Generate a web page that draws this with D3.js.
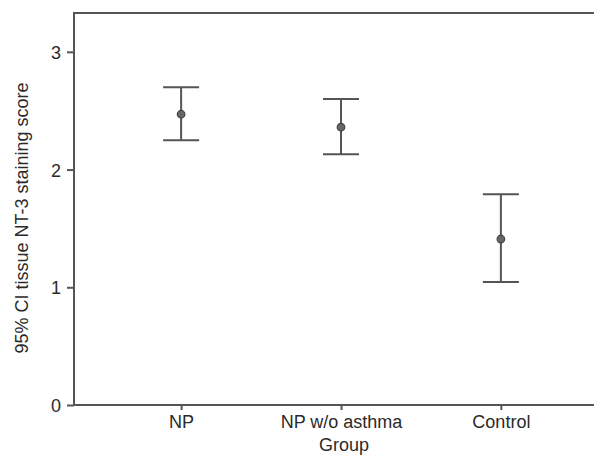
<!DOCTYPE html>
<html>
<head>
<meta charset="utf-8">
<script src="https://cdn.jsdelivr.net/npm/d3@7"></script>
<style>
  body { margin: 0; background: #fff; }
  text { font-family: "Liberation Sans", Arial, sans-serif; fill: #2a2a2a; }
</style>
</head>
<body>
<div id="chart"></div>
<script>
// group data
var groups = ["NP", "NP w/o asthma", "Control"];
var means = [2.47, 2.36, 1.41];
var lower = [2.25, 2.13, 1.045];
var upper = [2.70, 2.60, 1.79];
var yTicks = [0, 1, 2, 3];

var W = 594, H = 456;
var margin = { top: 13, right: -14, bottom: 51, left: 74 },
  width = W - margin.left - margin.right,
  height = H - margin.top - margin.bottom;

var svg = d3.select("#chart").append("svg")
  .attr("width", W)
  .attr("height", H)
  .append("g")
  .attr("transform", "translate(" + margin.left + "," + margin.top + ")");

var x = d3.scalePoint()
  .domain(groups)
  .range([0, width])
  .padding(0.67);

var y = d3.scaleLinear()
  .domain([0, 3.33])
  .range([height, 0]);

var stroke = "#555";

// frame
svg.append("rect")
  .attr("x", 0).attr("y", 0)
  .attr("width", width).attr("height", height)
  .attr("fill", "none")
  .attr("stroke", stroke)
  .attr("stroke-width", 2);

// y axis
var yAxis = svg.append("g")
  .call(d3.axisLeft(y).tickValues(yTicks).tickSize(7).tickPadding(6).tickFormat(d3.format("d")));
yAxis.select(".domain").remove();
yAxis.selectAll("line").attr("stroke", stroke).attr("stroke-width", 2);
yAxis.selectAll("text").style("font-size", "18px").attr("fill", "#2a2a2a").attr("dy", "0.36em");

// x axis
var xAxis = svg.append("g")
  .attr("transform", "translate(0," + height + ")")
  .call(d3.axisBottom(x).tickSize(5).tickPadding(7));
xAxis.select(".domain").remove();
xAxis.selectAll("line").attr("stroke", stroke).attr("stroke-width", 2);
xAxis.selectAll("text").style("font-size", "18px").attr("fill", "#2a2a2a").attr("dy", "0.62em");

// axis titles
svg.append("text")
  .attr("transform", "rotate(-90)")
  .attr("x", -(218 - margin.top))
  .attr("y", 28 - margin.left)
  .style("text-anchor", "middle")
  .style("font-size", "18px")
  .text("95% CI tissue NT-3 staining score");

svg.append("text")
  .attr("x", x("NP w/o asthma") + 3)
  .attr("y", height + 46)
  .style("text-anchor", "middle")
  .style("font-size", "18px")
  .text("Group");

// error bars
var capW = 18;
var bars = svg.selectAll(".bar")
  .data(groups)
  .enter().append("g")
  .attr("class", "bar");

bars.append("line")
  .attr("x1", function (d) { return x(d); })
  .attr("x2", function (d) { return x(d); })
  .attr("y1", function (d, i) { return y(lower[i]); })
  .attr("y2", function (d, i) { return y(upper[i]); })
  .attr("stroke", stroke).attr("stroke-width", 2);

bars.append("line")
  .attr("x1", function (d) { return x(d) - capW; })
  .attr("x2", function (d) { return x(d) + capW; })
  .attr("y1", function (d, i) { return y(upper[i]); })
  .attr("y2", function (d, i) { return y(upper[i]); })
  .attr("stroke", stroke).attr("stroke-width", 2);

bars.append("line")
  .attr("x1", function (d) { return x(d) - capW; })
  .attr("x2", function (d) { return x(d) + capW; })
  .attr("y1", function (d, i) { return y(lower[i]); })
  .attr("y2", function (d, i) { return y(lower[i]); })
  .attr("stroke", stroke).attr("stroke-width", 2);

bars.append("circle")
  .attr("cx", function (d) { return x(d); })
  .attr("cy", function (d, i) { return y(means[i]); })
  .attr("r", 3.8)
  .attr("fill", "#666")
  .attr("stroke", "#444")
  .attr("stroke-width", 1.2);
</script>
</body>
</html>
